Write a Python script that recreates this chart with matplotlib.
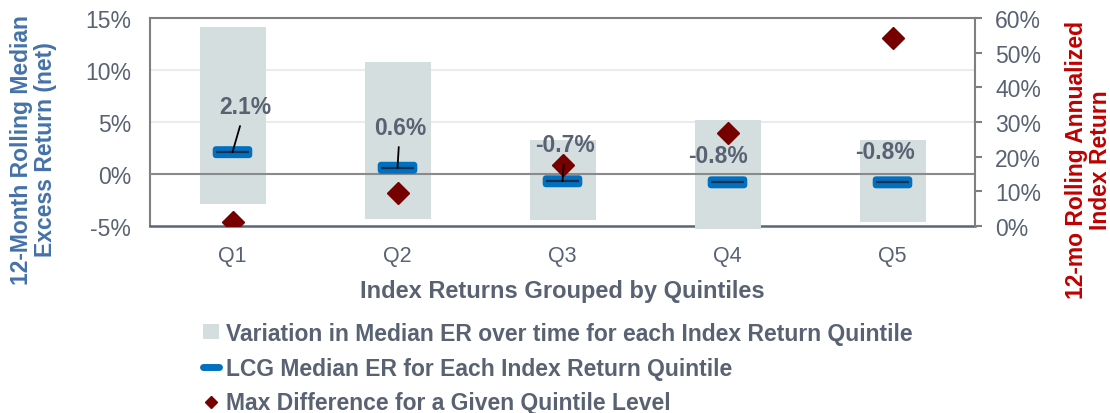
import numpy as np
import matplotlib
matplotlib.use("Agg")
import matplotlib.pyplot as plt
from matplotlib.patches import Patch, FancyBboxPatch
from matplotlib.lines import Line2D

plt.rcParams["font.family"] = ["Liberation Sans", "DejaVu Sans"]

# data
quintiles = ["Q1", "Q2", "Q3", "Q4", "Q5"]
range_high = [14.1, 10.8, 3.25, 5.2, 3.25]      # variation in median ER (top), %
range_low = [-2.9, -4.3, -4.45, -5.25, -4.6]    # variation in median ER (bottom), %
median_er = [2.1, 0.6, -0.7, -0.8, -0.8]        # LCG median ER, %
max_diff = [1.2, 9.4, 17.7, 26.7, 54.2]         # 12-mo rolling index return, %

# label placement (data coords on left axis) and whether a leader line is drawn
label_pos = [(0.08, 6.5), (1.015, 4.5), (2.015, 2.8), (2.94, 1.8), (3.955, 2.2)]
leader = [True, True, True, False, False]

TXT = "#596273"
GRAY_BOX = "#D5DEDF"
BLUE = "#0070C0"
DARK_RED = "#760000"
AXIS_BLUE = "#4472A8"
AXIS_RED = "#C00000"

fig = plt.figure(figsize=(11.1, 4.14), dpi=100)
ax = fig.add_axes([150 / 1110, 1 - 227 / 414, 825 / 1110, 208 / 414])
ax2 = ax.twinx()

x = np.arange(len(quintiles))
heights = np.array(range_high) - np.array(range_low)

# variation boxes
ax.bar(x, heights, bottom=range_low, width=0.4, color=GRAY_BOX,
       zorder=2.6, clip_on=False)

# gridlines and zero line
for g in [5, 10]:
    ax.axhline(g, color="#EBEBEB", lw=1.5, zorder=1)
ax.axhline(0, color="#8A8A8A", lw=1.5, zorder=2.7)

# median markers: blue rounded box with a dark line inside
box_w, box_h = 0.24, 1.15
for xi, m in zip(x, median_er):
    ax.add_patch(FancyBboxPatch((xi - box_w / 2, m - box_h / 2), box_w, box_h,
                                boxstyle="round,pad=0,rounding_size=0.022",
                                mutation_aspect=16, facecolor=BLUE,
                                edgecolor="none", zorder=3))
    ax.plot([xi - 0.097, xi + 0.097], [m, m], color="#1B2F4A", lw=1.6,
            solid_capstyle="butt", zorder=3.1)

ax.set_xlim(-0.5, 4.5)
ax.set_ylim(-5, 15)
ax.set_yticks([-5, 0, 5, 10, 15])
ax.set_yticklabels([f"{v}%" for v in [-5, 0, 5, 10, 15]])
ax.set_xticks(x)
ax.set_xticklabels(quintiles)
ax.tick_params(axis="y", length=0, pad=13.5, labelsize=16.5, labelcolor=TXT)
ax.tick_params(axis="x", length=0, pad=14, labelsize=15.5, labelcolor=TXT)
ax.set_xlabel("Index Returns Grouped by Quintiles", fontsize=17,
              fontweight="bold", color=TXT, labelpad=9)

for side in ["left", "top"]:
    ax.spines[side].set_color("#7F7F7F")
    ax.spines[side].set_linewidth(1.5)
ax.spines["bottom"].set_color("#5B6579")
ax.spines["bottom"].set_linewidth(1.8)
ax.spines["right"].set_visible(False)

# right axis: index return
ax2.plot(x, max_diff, linestyle="none", marker="D", ms=11.5,
         color=DARK_RED, zorder=4)
ax2.set_ylim(0, 60)
ax2.set_yticks(np.arange(0, 61, 10))
ax2.set_yticklabels([f"{v}%" for v in range(0, 61, 10)])
ax2.tick_params(axis="y", direction="out", length=5, width=1.5,
                color="#7F7F7F", pad=9.5, labelsize=16.5, labelcolor=TXT)
for side in ["left", "top", "bottom"]:
    ax2.spines[side].set_visible(False)
ax2.spines["right"].set_color("#7F7F7F")
ax2.spines["right"].set_linewidth(1.5)

# value labels
for xi, m, (tx, ty), lead in zip(x, median_er, label_pos, leader):
    props = None
    if lead:
        props = dict(arrowstyle="-", color="black", lw=1.3,
                     shrinkA=4, shrinkB=0)
    ax2.annotate(f"{m:.1f}%", xy=(xi, m), xycoords=ax.transData,
                 xytext=(tx, ty), textcoords=ax.transData,
                 ha="center", va="center", fontsize=16.5, fontweight="bold",
                 color=TXT, arrowprops=props, zorder=5)

# axis titles
fig.text(33.5 / 1110, 1 - 150 / 414, "12-Month Rolling Median\nExcess Return (net)",
         rotation=90, ha="center", va="center", fontsize=16.5,
         fontweight="bold", color=AXIS_BLUE, linespacing=1.05)
fig.text(1088.5 / 1110, 1 - 160 / 414, "12-mo Rolling Annualized\nIndex Return",
         rotation=90, ha="center", va="center", fontsize=16.5,
         fontweight="bold", color=AXIS_RED, linespacing=1.05)

# legend
handles = [
    Patch(facecolor=GRAY_BOX, edgecolor="none"),
    Line2D([0], [0], color=BLUE, lw=5, solid_capstyle="round"),
    Line2D([0], [0], color=DARK_RED, marker="D", ms=6.5, linestyle="none"),
]
labels = [
    "Variation in Median ER over time for each Index Return Quintile",
    "LCG Median ER for Each Index Return Quintile",
    "Max Difference for a Given Quintile Level",
]
leg = fig.legend(handles, labels, loc="upper left",
                 bbox_to_anchor=(182 / 1110, 1 - 302 / 414), frameon=False,
                 handlelength=0.7, handleheight=0.6, handletextpad=0.3,
                 labelspacing=0.52, prop=dict(size=16.5, weight="bold"))
for t in leg.get_texts():
    t.set_color(TXT)

fig.savefig("out.png", dpi=100)
